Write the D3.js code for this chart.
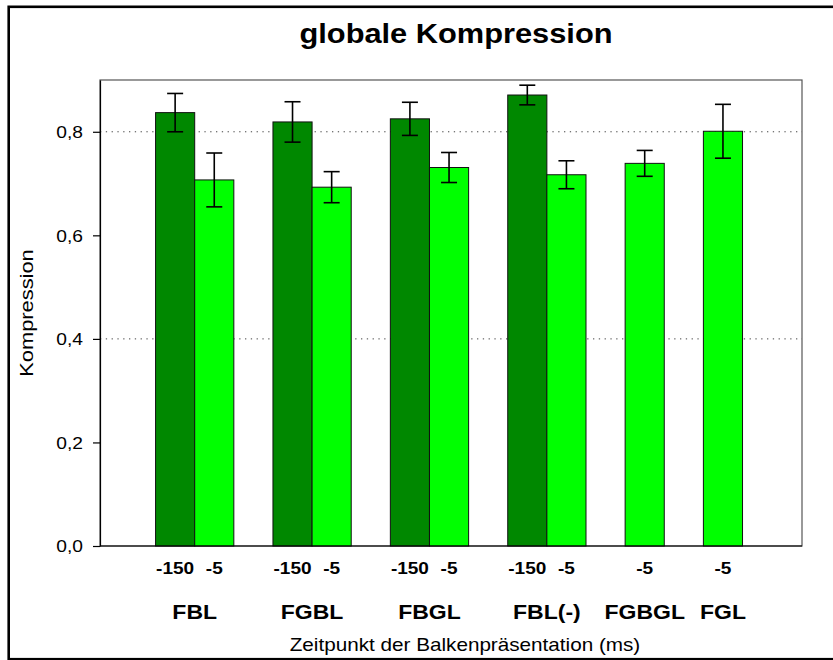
<!DOCTYPE html>
<html>
<head>
<meta charset="utf-8">
<script src="https://cdn.jsdelivr.net/npm/d3@7"></script>
<style>
  html, body { margin: 0; padding: 0; background: #fff; }
  svg { display: block; }
  text { font-family: "Liberation Sans", Arial, Helvetica, sans-serif; fill: #000; }
</style>
</head>
<body>
<script>
// Conditions (bar groups) and presentation times
const groups = ["FBL", "FGBL", "FBGL", "FBL(-)", "FGBGL", "FGL"];
const timeLabels = ["-150", "-5"];

// Mean compression and error per condition; null = condition not measured
const mean150 = [0.837, 0.819, 0.825, 0.871, null, null];
const err150  = [0.037, 0.039, 0.032, 0.019, null, null];
const mean5   = [0.707, 0.693, 0.731, 0.717, 0.739, 0.801];
const err5    = [0.052, 0.030, 0.029, 0.027, 0.025, 0.052];

// Axis ticks and reference lines
const yTicks = [0, 0.2, 0.4, 0.6, 0.8];
const gridValues = [0.4, 0.8];
const yMax = 0.9;

const titleText = "globale Kompression";
const xTitle = "Zeitpunkt der Balkenpräsentation (ms)";
const yTitle = "Kompression";

const W = 833, H = 660;
const plot = { left: 100, right: 802, top: 80, bottom: 546 };
const colors = { "-150": "#008800", "-5": "#00ff00" };

const svg = d3.select("body").append("svg").attr("width", W).attr("height", H);

// Outer frame (open at the right edge)
svg.append("rect")
  .attr("x", 8.7).attr("y", 6.8)
  .attr("width", W + 20).attr("height", 659.2 - 6.8)
  .attr("fill", "none").attr("stroke", "#000").attr("stroke-width", 2.6);

// Build bar records
const bars = [];
const slots = [];
groups.forEach((g, i) => {
  const series = [[timeLabels[0], mean150[i], err150[i]], [timeLabels[1], mean5[i], err5[i]]];
  series.forEach(([t, m, e]) => {
    if (m == null) return;
    const key = g + "|" + t;
    bars.push({ group: g, time: t, key, mean: m, err: e });
    slots.push(key);
  });
  if (i < groups.length - 1) slots.push("gap" + i);
});

const x = d3.scaleBand()
  .domain(slots)
  .range([plot.left, plot.right])
  .paddingInner(0)
  .paddingOuter(1.47)
  .align(0.483);

const y = d3.scaleLinear().domain([0, yMax]).range([plot.bottom, plot.top]);

// Plot frame
svg.append("rect")
  .attr("x", plot.left).attr("y", plot.top)
  .attr("width", plot.right - plot.left).attr("height", plot.bottom - plot.top)
  .attr("fill", "none").attr("stroke", "#555").attr("stroke-width", 1.2);

// Dotted reference lines
svg.append("g").selectAll("line").data(gridValues).join("line")
  .attr("x1", plot.left).attr("x2", plot.right)
  .attr("y1", d => y(d)).attr("y2", d => y(d))
  .attr("stroke", "#444").attr("stroke-width", 1)
  .attr("stroke-dasharray", "1.3,4.5");

// Bars
svg.append("g").selectAll("rect").data(bars).join("rect")
  .attr("x", d => x(d.key))
  .attr("y", d => y(d.mean))
  .attr("width", x.bandwidth())
  .attr("height", d => y(0) - y(d.mean))
  .attr("fill", d => colors[d.time])
  .attr("stroke", "#111").attr("stroke-width", 1);

// Error bars
const eb = svg.append("g").attr("stroke", "#000").attr("stroke-width", 1.6);
bars.forEach(d => {
  const cx = x(d.key) + x.bandwidth() / 2;
  const y1 = y(d.mean + d.err), y2 = y(d.mean - d.err);
  eb.append("line").attr("x1", cx).attr("x2", cx).attr("y1", y1).attr("y2", y2);
  eb.append("line").attr("x1", cx - 8).attr("x2", cx + 8).attr("y1", y1).attr("y2", y1);
  eb.append("line").attr("x1", cx - 8).attr("x2", cx + 8).attr("y1", y2).attr("y2", y2);
});

// Y axis
const yAxis = svg.append("g")
  .attr("transform", `translate(${plot.left},0)`)
  .call(d3.axisLeft(y).tickValues(yTicks).tickSize(7).tickSizeOuter(0)
    .tickFormat(d => d3.format(".1f")(d).replace(".", ",")));
yAxis.select(".domain").attr("stroke", "#000").attr("stroke-width", 1.2);
yAxis.selectAll(".tick line").attr("stroke", "#000").attr("stroke-width", 1.2);
yAxis.selectAll(".tick text")
  .attr("x", null).attr("dy", "0.36em")
  .attr("font-size", 16)
  .attr("transform", "translate(-17,0) scale(1.2,1)");
yAxis.attr("font-family", null);

// X axis: time labels under each bar
const xAxis = svg.append("g")
  .attr("transform", `translate(0,${plot.bottom})`)
  .call(d3.axisBottom(x).tickValues(bars.map(d => d.key)).tickSize(0).tickSizeOuter(0)
    .tickFormat(k => k.split("|")[1]));
xAxis.select(".domain").attr("stroke", "#000").attr("stroke-width", 1.2)
  .attr("d", `M${plot.left},0H${plot.right}`);
xAxis.selectAll(".tick text")
  .attr("y", null).attr("dy", null)
  .attr("font-size", 17).attr("font-weight", "bold")
  .attr("transform", "translate(0,28) scale(1.12,1)");
xAxis.attr("font-family", null);

// Group labels
const groupCenters = groups.map(g => {
  const bs = bars.filter(b => b.group === g);
  return { g, cx: d3.mean(bs, b => x(b.key) + x.bandwidth() / 2) };
});
svg.append("g").selectAll("text").data(groupCenters).join("text")
  .attr("transform", d => `translate(${d.cx},619) scale(1.15,1)`)
  .attr("text-anchor", "middle")
  .attr("font-size", 20).attr("font-weight", "bold")
  .text(d => d.g);

// Title
svg.append("text")
  .attr("transform", "translate(456,43) scale(1.1,1)")
  .attr("text-anchor", "middle")
  .attr("font-size", 28).attr("font-weight", "bold")
  .text(titleText);

// Axis titles
svg.append("text")
  .attr("transform", "translate(465,651) scale(1.15,1)")
  .attr("text-anchor", "middle")
  .attr("font-size", 18)
  .text(xTitle);

svg.append("text")
  .attr("transform", "translate(33,313) rotate(-90) scale(1.15,1)")
  .attr("text-anchor", "middle")
  .attr("font-size", 19)
  .text(yTitle);
</script>
</body>
</html>
